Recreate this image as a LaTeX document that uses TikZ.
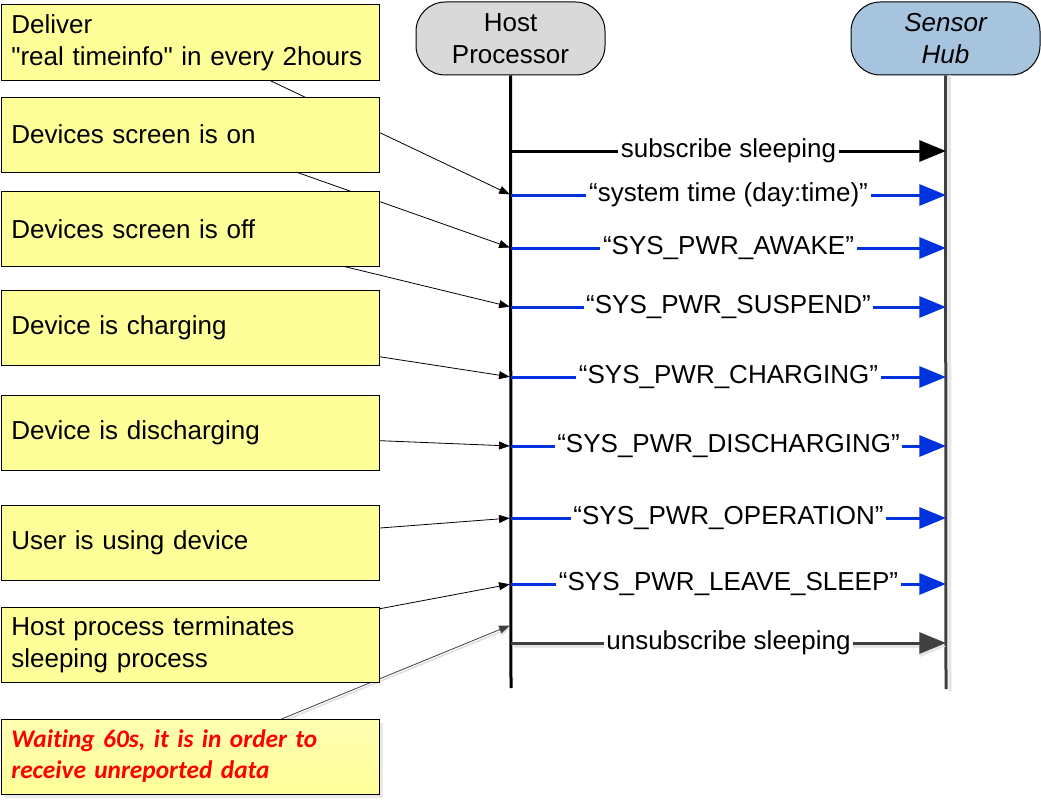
\documentclass[tikz,border=0pt]{standalone}
\usepackage{fontspec}
\setmainfont{Liberation Sans}
\newfontfamily\rawfont{Liberation Sans}
\newfontfamily\calfont{Carlito}[Ligatures=NoCommon]
\usetikzlibrary{positioning, arrows.meta, backgrounds, shadows}

\definecolor{noteyellow}{RGB}{255,255,153}
\definecolor{hostgray}{RGB}{217,217,217}
\definecolor{hubblue}{RGB}{166,196,222}
\definecolor{msgblue}{RGB}{0,51,221}
\definecolor{darkline}{RGB}{64,64,64}

\begin{document}
\begin{tikzpicture}[
  x=0.75pt, y=-0.75pt,
  font=\fontsize{19.5}{24}\selectfont,
  actor/.style={draw, line width=0.75pt, rounded corners=22pt, minimum width=141.75pt,
    minimum height=54.75pt, align=center, inner sep=0pt, fill=#1},
  actor/.default={white},
  lifeline/.style={line width=2.25pt},
  note/.style={draw, line width=0.75pt, fill=noteyellow, text width=268pt, inner xsep=7.75pt,
    inner ysep=0pt, minimum height=56.25pt, align=left},
  msg/.style={line width=2.25pt, -{Triangle[length=20pt, width=15.75pt]}},
  lbl/.style={fill=white, text=black, inner xsep=2pt, inner ysep=1pt},
  pointer/.style={line width=0.6pt, -{Triangle[length=8pt, width=6pt]}, shorten >=1pt}
]
  \useasboundingbox (0,0) rectangle (1041,799);

  % participants
  \node[actor=hostgray] (host) at (510.5,38.5) {Host\\Processor};
  \node[actor=hubblue, font=\fontsize{19.5}{24}\selectfont\itshape] (hub) at (945.5,38.5) {Sensor\\Hub};
  \coordinate (hostend) at (511,688);
  \coordinate (hubend) at (946,689);
  \draw[lifeline, gray!20] ([xshift=3pt]hub.south) -- ([xshift=3pt,yshift=-2pt]hubend);
  \draw[lifeline, darkline] (hub.south) -- (hubend);
  \draw[lifeline] (host.south) -- (hostend);

  % notes on the left
  \foreach \nm/\y/\txt in {
    deliver/42.5/{Deliver\\{\rawfont"}real timeinfo{\rawfont"} in every 2hours},
    screenon/134.5/{Devices screen is on},
    screenoff/229/{Devices screen is off},
    charging/327.5/{Device is charging},
    discharging/433/{Device is discharging},
    using/542.5/{User is using device},
    terminate/644.5/{Host process terminates\\sleeping process}} {
    \node[note] (\nm) at (190,\y) {\txt};
  }
  \node[note, top color=noteyellow!75, bottom color=noteyellow, text=red,
    drop shadow={shadow xshift=3pt, shadow yshift=-3pt, fill=gray!35},
    font=\calfont\bfseries\itshape\fontsize{19}{23.25}\selectfont] (waiting) at (190,756.5)
    {Waiting 60s, it is in order to\\receive unreported data};

  % messages
  \coordinate (hsub) at (511,151);
  \coordinate (ssub) at (946,151);
  \draw[msg] (hsub) -- node[lbl] {subscribe sleeping} (ssub);
  \foreach \nm/\y/\txt in {
    time/195/{“system time (day:time)”},
    awake/248/{“SYS\_PWR\_AWAKE”},
    suspend/307/{“SYS\_PWR\_SUSPEND”},
    chg/377/{“SYS\_PWR\_CHARGING”},
    dischg/446/{“SYS\_PWR\_DISCHARGING”},
    oper/518/{“SYS\_PWR\_OPERATION”},
    leave/584/{“SYS\_PWR\_LEAVE\_SLEEP”}} {
    \coordinate (h\nm) at (511,\y);
    \coordinate (s\nm) at (946,\y);
    \draw[msg, msgblue] (h\nm) -- node[lbl] {\txt} (s\nm);
  }
  \coordinate (hunsub) at (511,643);
  \coordinate (sunsub) at (946,643);
  \draw[msg, gray!20] ([shift={(2pt,-2.5pt)}]hunsub) -- ([shift={(0pt,-2.5pt)}]sunsub);
  \draw[msg, darkline] (hunsub) -- node[lbl] {unsubscribe sleeping} (sunsub);

  % pointers from notes, behind the boxes
  \coordinate (hwait) at (511,625);
  \begin{scope}[on background layer]
    \foreach \nm/\m in {deliver/time, screenon/awake, screenoff/suspend, charging/chg,
      discharging/dischg, using/oper, terminate/leave} {
      \draw[pointer] (\nm.center) -- (h\m);
    }
    \draw[pointer, gray!25, line width=1.2pt] ([yshift=-2pt]waiting.center) -- ([yshift=-2pt]hwait);
    \draw[pointer, darkline] (waiting.center) -- (hwait);
  \end{scope}
\end{tikzpicture}
\end{document}
